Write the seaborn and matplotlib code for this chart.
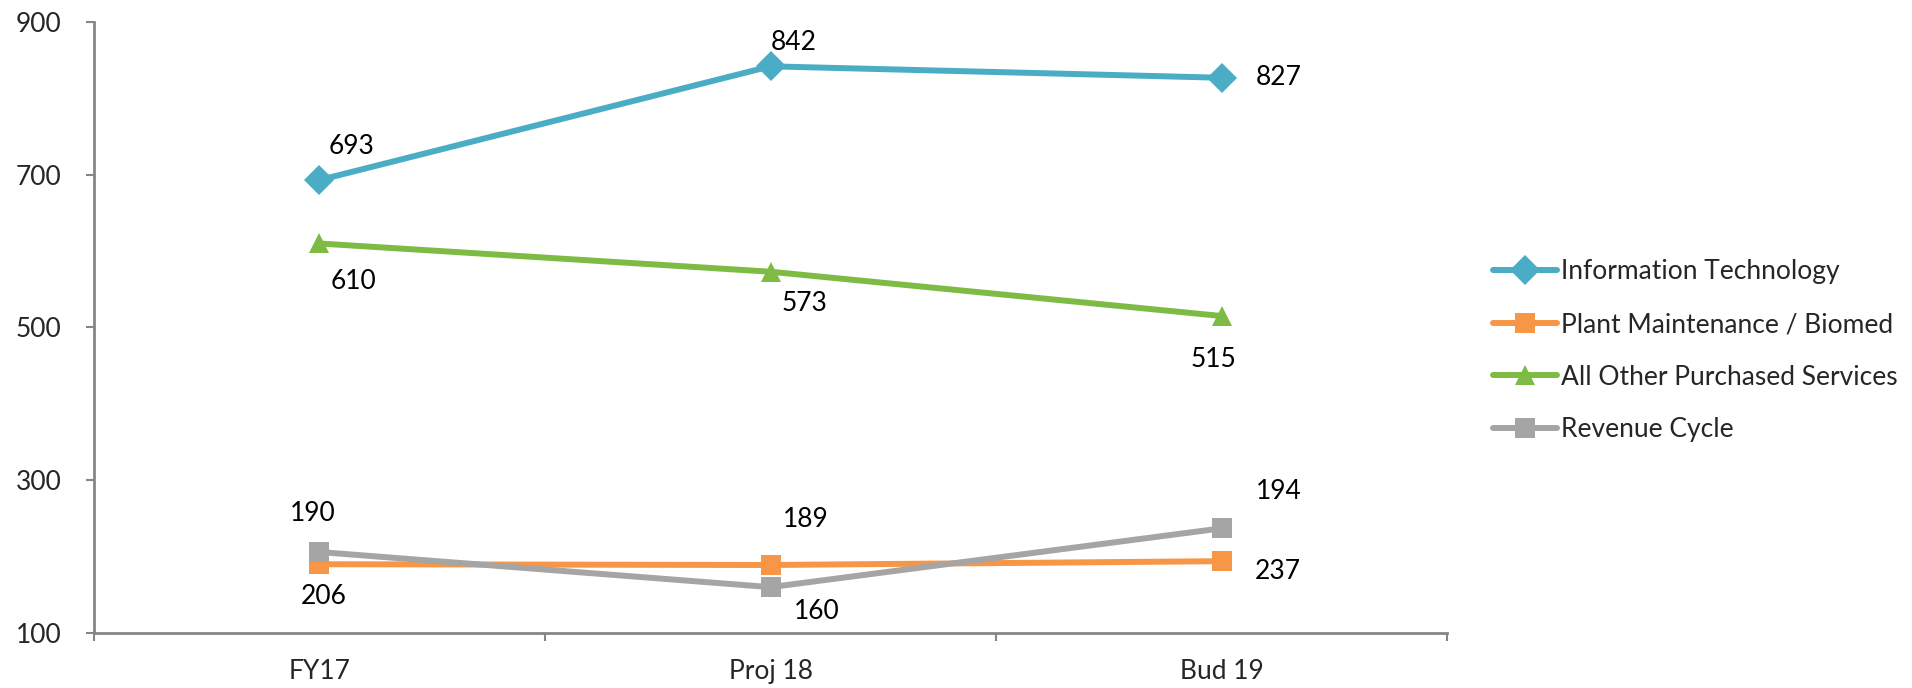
import matplotlib
matplotlib.use('Agg')
import matplotlib.pyplot as plt
from matplotlib.ticker import FixedLocator
import seaborn as sns
import pandas as pd

# data
periods = ['FY17', 'Proj 18', 'Bud 19']
info_tech = [693, 842, 827]
plant_maint = [190, 189, 194]
other_services = [610, 573, 515]
revenue_cycle = [206, 160, 237]

series_names = ['Information Technology', 'Plant Maintenance / Biomed',
                'All Other Purchased Services', 'Revenue Cycle']
series_values = [info_tech, plant_maint, other_services, revenue_cycle]
colors = ['#4BACC6', '#F79646', '#7DBB44', '#A5A5A5']
markers = ['D', 's', '^', 's']

# label offsets in pixels (dx, dy up) for each point, as placed in the source chart
label_offsets = [
    [(32, 34), (23, 24), (57, 0)],
    [(-7, 51), (35, 45), (57, 70)],
    [(34, -38), (34, -32), (-8, -43)],
    [(4, -44), (46, -24), (56, -43)],
]

rows = []
for name, vals in zip(series_names, series_values):
    for p, v in zip(periods, vals):
        rows.append({'Period': p, 'Value': v, 'Series': name})
df = pd.DataFrame(rows)

sns.set_style('white')
plt.rcParams['font.family'] = ['Lato', 'DejaVu Sans']
FS = 19

fig = plt.figure(figsize=(19.12, 6.88), dpi=100)
ax = fig.add_axes([0.049, 0.080, 0.708, 0.888])

sns.lineplot(data=df, x='Period', y='Value', hue='Series', style='Series',
             hue_order=series_names, style_order=series_names,
             palette=colors, markers=markers, dashes=False, sort=False,
             linewidth=4.3, markersize=15, markeredgewidth=0, ax=ax)

for vals, offs in zip(series_values, label_offsets):
    for i, (v, (dx, dy)) in enumerate(zip(vals, offs)):
        ax.annotate(str(v), (i, v), xytext=(dx, dy), textcoords='offset pixels',
                    ha='center', va='center', fontsize=FS, color='black')

ax.set_xlim(-0.5, 2.5)
ax.set_ylim(100, 900)
ax.set_yticks([100, 300, 500, 700, 900])
ax.xaxis.set_major_locator(FixedLocator([0, 1, 2]))
ax.set_xticklabels(periods)
ax.xaxis.set_minor_locator(FixedLocator([-0.5, 0.5, 1.5, 2.5]))
ax.tick_params(axis='x', which='major', length=0, pad=19, labelsize=FS)
ax.tick_params(axis='x', which='minor', bottom=True, length=6, width=1.5,
               color='#868686', direction='out')
ax.tick_params(axis='y', left=True, length=6, width=1.5, color='#868686',
               direction='out', labelsize=FS, pad=17)
ax.set_xlabel('')
ax.set_ylabel('')
sns.despine(ax=ax)
for s in ['left', 'bottom']:
    ax.spines[s].set_color('#868686')
    ax.spines[s].set_linewidth(2)

leg = ax.legend(loc='center left', bbox_to_anchor=(0.781, 0.490), bbox_transform=fig.transFigure,
                frameon=False, fontsize=FS, handlelength=2.4, handletextpad=0.15,
                labelspacing=1.05, markerscale=1.0, borderpad=0, borderaxespad=0)
for h in leg.get_lines():
    h.set_solid_capstyle('round')

fig.savefig('out.png', dpi=100)
